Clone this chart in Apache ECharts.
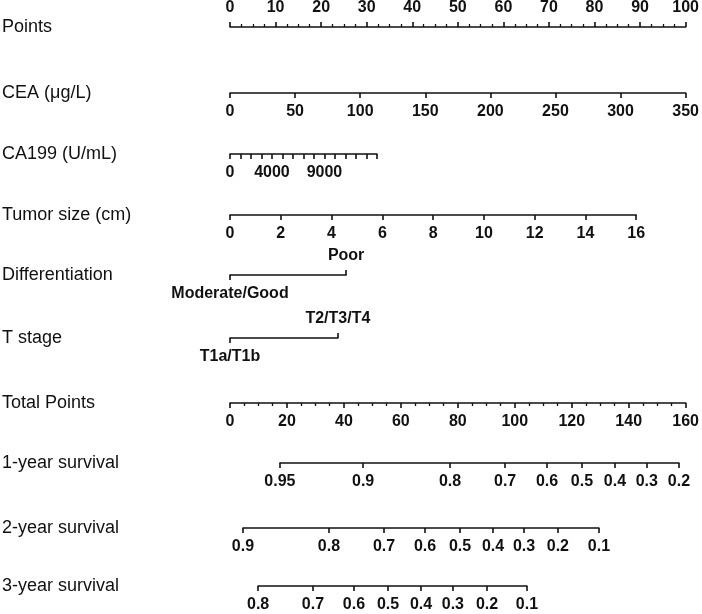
<!DOCTYPE html>
<html>
<head>
<meta charset="utf-8">
<script src="https://cdn.jsdelivr.net/npm/echarts@6/dist/echarts.min.js"></script>
<style>
html,body{margin:0;padding:0;background:#fff;}
#chart{width:702px;height:614px;}
</style>
</head>
<body>
<div id="chart"></div>
<script>
// ---------- data ----------
const rowTitles = ['Points','CEA (\u03bcg/L)','CA199 (U/mL)','Tumor size (cm)','Differentiation','T stage','Total Points','1-year survival','2-year survival','3-year survival'];

const pointsMax = 100;
const pointsTickStep = 10;

const ceaMax = 350;
const ceaTickStep = 50;
const ceaMaxPoints = 100;

const ca199Max = 14000;
const ca199TickStep = 1000;
const ca199Labels = [0, 4000, 9000];
const ca199MaxPoints = 32.0;

const tumorMax = 16;
const tumorTickStep = 2;
const tumorMaxPoints = 88.5;

const diffCategories = ['Moderate/Good', 'Poor'];
const diffPoints = [0, 25.3];

const tStageCategories = ['T1a/T1b', 'T2/T3/T4'];
const tStagePoints = [0, 23.5];

const totalMax = 160;
const totalTickStep = 20;

const surv1Probs  = [0.95, 0.9, 0.8, 0.7, 0.6, 0.5, 0.4, 0.3, 0.2];
const surv1Points = [17.4, 46.4, 76.7, 95.9, 110.5, 122.7, 134.2, 145.3, 156.5];

const surv2Probs  = [0.9, 0.8, 0.7, 0.6, 0.5, 0.4, 0.3, 0.2, 0.1];
const surv2Points = [4.5, 34.5, 53.7, 68.0, 80.2, 91.7, 102.5, 114.3, 128.6];

const surv3Probs  = [0.8, 0.7, 0.6, 0.5, 0.4, 0.3, 0.2, 0.1];
const surv3Points = [9.8, 28.9, 43.2, 55.1, 66.6, 77.7, 89.6, 103.5];

// ---------- layout ----------
const X0 = 230;
const AXIS_W = 459;
const PX_PER_POINT = AXIS_W / pointsMax;
const PX_PER_TOTAL = AXIS_W / totalMax;
const lineY = [27, 93, 154, 215, 275, 338, 403, 463, 528, 586];
const INK = '#111';
const FONT = 'Liberation Sans, Arial, sans-serif';

const grids = [], xAxes = [], yAxes = [];

function addGrid(y, leftPx, widthPx) {
  grids.push({left: leftPx, top: y, width: widthPx, height: 0});
  const gi = grids.length - 1;
  yAxes.push({gridIndex: gi, type: 'value', show: false, min: 0, max: 1});
  return gi;
}
function baseAxis(gi, position, min, max, showLine) {
  return {
    type: 'value', gridIndex: gi, position: position, min: min, max: max,
    splitLine: {show: false},
    axisLine: {show: showLine !== false, onZero: false, lineStyle: {color: INK, width: 1.6}},
    axisTick: {show: true, length: 5, lineStyle: {color: INK, width: 1.6}},
    axisLabel: {color: INK, fontSize: 16, fontWeight: 'bold', fontFamily: FONT,
      margin: position === 'top' ? 11 : 11,
      formatter: (v) => String(v)}
  };
}

// Points
let g = addGrid(lineY[0], X0, AXIS_W);
let ax = baseAxis(g, 'top', 0, pointsMax);
ax.interval = pointsTickStep;
ax.minorTick = {show: true, splitNumber: 4, length: 3, lineStyle: {color: INK, width: 1.3}};
xAxes.push(ax);

// CEA
g = addGrid(lineY[1], X0, ceaMaxPoints * PX_PER_POINT);
ax = baseAxis(g, 'bottom', 0, ceaMax);
ax.interval = ceaTickStep;
xAxes.push(ax);

// CA199
g = addGrid(lineY[2], X0, ca199MaxPoints * PX_PER_POINT);
ax = baseAxis(g, 'bottom', 0, ca199Max);
ax.interval = ca199TickStep;
ax.axisLabel.customValues = ca199Labels;
xAxes.push(ax);

// Tumor size
g = addGrid(lineY[3], X0, tumorMaxPoints * PX_PER_POINT);
ax = baseAxis(g, 'bottom', 0, tumorMax);
ax.interval = tumorTickStep;
xAxes.push(ax);

// categorical rows: low category below-left, high category above-right
function catRow(y, cats, pts) {
  const gi = addGrid(y, X0 + pts[0] * PX_PER_POINT, (pts[1] - pts[0]) * PX_PER_POINT);
  const lo = baseAxis(gi, 'bottom', pts[0], pts[1], true);
  lo.axisTick.customValues = [pts[0]];
  lo.axisLabel.customValues = [pts[0]];
  lo.axisLabel.formatter = () => cats[0];
  const hi = baseAxis(gi, 'top', pts[0], pts[1], false);
  hi.axisTick.customValues = [pts[1]];
  hi.axisLabel.customValues = [pts[1]];
  hi.axisLabel.formatter = () => cats[1];
  xAxes.push(lo, hi);
}
catRow(lineY[4], diffCategories, diffPoints);
catRow(lineY[5], tStageCategories, tStagePoints);

// Total points
g = addGrid(lineY[6], X0, AXIS_W);
ax = baseAxis(g, 'bottom', 0, totalMax);
ax.interval = totalTickStep;
ax.minorTick = {show: true, splitNumber: 4, length: 3, lineStyle: {color: INK, width: 1.3}};
xAxes.push(ax);

// survival rows (placed on the total-points scale)
function survRow(y, probs, pts) {
  const lo = pts[0], hi = pts[pts.length - 1];
  const gi = addGrid(y, X0 + lo * PX_PER_TOTAL, (hi - lo) * PX_PER_TOTAL);
  const a = baseAxis(gi, 'bottom', lo, hi);
  a.axisTick.customValues = pts;
  a.axisLabel.customValues = pts;
  a.axisLabel.formatter = (v) => {
    const i = pts.findIndex(p => Math.abs(p - v) < 1e-6);
    return i >= 0 ? String(probs[i]) : '';
  };
  xAxes.push(a);
}
survRow(lineY[7], surv1Probs, surv1Points);
survRow(lineY[8], surv2Probs, surv2Points);
survRow(lineY[9], surv3Probs, surv3Points);

const titles = rowTitles.map((t, i) => ({
  type: 'text', left: 2, top: lineY[i] - 9,
  style: {text: t, fill: INK, font: '18px ' + FONT}
}));

const chart = echarts.init(document.getElementById('chart'), null, {renderer: 'canvas'});
chart.setOption({
  animation: false,
  backgroundColor: '#fff',
  grid: grids,
  xAxis: xAxes,
  yAxis: yAxes,
  graphic: titles,
  series: []
});
</script>
</body>
</html>
